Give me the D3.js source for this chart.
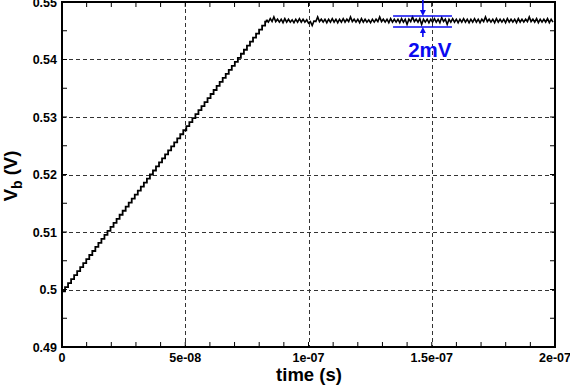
<!DOCTYPE html>
<html>
<head>
<meta charset="utf-8">
<script src="https://cdnjs.cloudflare.com/ajax/libs/d3/7.8.5/d3.min.js"></script>
<style>
body { margin: 0; background: #fff; }
text { font-family: "Liberation Sans", Arial, sans-serif; font-weight: bold; }
</style>
</head>
<body>
<div id="chart"></div>
<script>
// Width and height
var width  = 570;
var height = 386;
var plotL = 62, plotR = 555, plotT = 2, plotB = 347;

// axis ticks
var xTicks      = [0, 5e-8, 1e-7, 1.5e-7, 2e-7];
var xTickLabels = ["0", "5e-08", "1e-07", "1.5e-07", "2e-07"];
var yTicks      = [0.49, 0.5, 0.51, 0.52, 0.53, 0.54, 0.55];
var yTickLabels = ["0.49", "0.5", "0.51", "0.52", "0.53", "0.54", "0.55"];

// ramp (staircase), one level per step
var rampStep = 1.23e-9;
var rampV = [
  0.4997, 0.5004, 0.5011, 0.5018, 0.5025, 0.5032, 0.5039, 0.5046, 0.5053, 0.5060,
  0.5067, 0.5074, 0.5081, 0.5088, 0.5095, 0.5102, 0.5109, 0.5116, 0.5123, 0.5130,
  0.5137, 0.5144, 0.5151, 0.5158, 0.5165, 0.5172, 0.5179, 0.5186, 0.5193, 0.5200,
  0.5207, 0.5214, 0.5221, 0.5228, 0.5235, 0.5242, 0.5249, 0.5256, 0.5263, 0.5270,
  0.5277, 0.5284, 0.5291, 0.5298, 0.5305, 0.5312, 0.5319, 0.5326, 0.5333, 0.5340,
  0.5347, 0.5354, 0.5361, 0.5368, 0.5375, 0.5382, 0.5389, 0.5396, 0.5403, 0.5410,
  0.5417, 0.5424, 0.5431, 0.5438, 0.5445, 0.5452, 0.5459, 0.5466
];

// ripple after settling
var rippleStart = 8.3e-8;
var rippleStep  = 0.74e-9;
var rippleV = [
  0.5469, 0.5465, 0.5471, 0.5466, 0.5474, 0.5466, 0.5470, 0.5465, 0.5470, 0.5464,
  0.5471, 0.5465, 0.5470, 0.5465, 0.5469, 0.5464, 0.5470, 0.5465, 0.5471, 0.5465,
  0.5470, 0.5465, 0.5469, 0.5463, 0.5466, 0.5459, 0.5467, 0.5466, 0.5474, 0.5466,
  0.5470, 0.5465, 0.5470, 0.5464, 0.5470, 0.5465, 0.5471, 0.5465, 0.5470, 0.5464,
  0.5470, 0.5465, 0.5471, 0.5465, 0.5470, 0.5466, 0.5474, 0.5466, 0.5470, 0.5465,
  0.5470, 0.5464, 0.5471, 0.5465, 0.5470, 0.5465, 0.5469, 0.5464, 0.5470, 0.5465,
  0.5470, 0.5466, 0.5474, 0.5466, 0.5470, 0.5465, 0.5470, 0.5464, 0.5471, 0.5465,
  0.5470, 0.5465, 0.5470, 0.5464, 0.5471, 0.5465, 0.5470, 0.5461, 0.5470, 0.5466,
  0.5474, 0.5466, 0.5470, 0.5465, 0.5471, 0.5461, 0.5470, 0.5465, 0.5470, 0.5464,
  0.5470, 0.5465, 0.5471, 0.5465, 0.5470, 0.5464, 0.5473, 0.5466, 0.5470, 0.5461,
  0.5470, 0.5465, 0.5471, 0.5465, 0.5470, 0.5464, 0.5470, 0.5465, 0.5471, 0.5465,
  0.5470, 0.5464, 0.5470, 0.5465, 0.5471, 0.5465, 0.5470, 0.5464, 0.5470, 0.5466,
  0.5474, 0.5466, 0.5470, 0.5465, 0.5470, 0.5464, 0.5471, 0.5465, 0.5470, 0.5465,
  0.5470, 0.5464, 0.5471, 0.5465, 0.5470, 0.5465, 0.5470, 0.5464, 0.5471, 0.5465,
  0.5470, 0.5465, 0.5470, 0.5466, 0.5474, 0.5466, 0.5470, 0.5465, 0.5471, 0.5464,
  0.5470, 0.5465, 0.5470, 0.5465, 0.5471, 0.5464, 0.5470, 0.5465
];

// 2mV annotation (data units)
var annoTop = 0.54757, annoBot = 0.54565;
var annoT0 = 1.343e-7, annoT1 = 1.582e-7, annoArrowT = 1.464e-7;
var annoLabel = "2mV";

var x = d3.scaleLinear().domain([0, 2e-7]).range([plotL, plotR]);
var y = d3.scaleLinear().domain([0.49, 0.55]).range([plotB, plotT]);

var svg = d3.select("#chart").append("svg")
    .attr("width", width)
    .attr("height", height);

svg.append("defs").append("clipPath").attr("id", "plotclip")
    .append("rect")
    .attr("x", plotL).attr("y", plotT)
    .attr("width", plotR - plotL).attr("height", plotB - plotT);

// grid
var grid = svg.append("g")
    .attr("stroke", "#333")
    .attr("stroke-width", 1)
    .attr("stroke-dasharray", "4,3");
grid.selectAll(".gx")
    .data(xTicks.slice(1, -1))
    .enter().append("line")
    .attr("x1", function(d){ return Math.round(x(d)) + 0.5; })
    .attr("x2", function(d){ return Math.round(x(d)) + 0.5; })
    .attr("y1", plotT).attr("y2", plotB);
grid.selectAll(".gy")
    .data(yTicks.slice(1, -1))
    .enter().append("line")
    .attr("y1", function(d){ return Math.round(y(d)) + 0.5; })
    .attr("y2", function(d){ return Math.round(y(d)) + 0.5; })
    .attr("x1", plotL).attr("x2", plotR);

// data
var rampPts = rampV.map(function(v, i){ return [i * rampStep, v]; });
rampPts.push([rippleStart, rippleV[0]]);
var ripplePts = rippleV.map(function(v, i){ return [rippleStart + i * rippleStep, v]; });

var line = d3.line().x(function(d){ return x(d[0]); }).y(function(d){ return y(d[1]); });

var dataG = svg.append("g").attr("clip-path", "url(#plotclip)");
dataG.append("path")
    .attr("d", line.curve(d3.curveStepAfter)(rampPts))
    .attr("fill", "none")
    .attr("stroke", "#000")
    .attr("stroke-width", 1.8);
dataG.append("path")
    .attr("d", line.curve(d3.curveLinear)(ripplePts))
    .attr("fill", "none")
    .attr("stroke", "#000")
    .attr("stroke-width", 1.6);

// frame
svg.append("rect")
    .attr("x", plotL).attr("y", plotT)
    .attr("width", plotR - plotL).attr("height", plotB - plotT)
    .attr("fill", "none")
    .attr("stroke", "#000")
    .attr("stroke-width", 2);

// minor ticks, inside
var tickG = svg.append("g").attr("stroke", "#000").attr("stroke-width", 1);
var xMinor = d3.range(0, 21).map(function(i){ return i * 1e-8; });
var yMinor = d3.range(0, 13).map(function(i){ return 0.49 + i * 0.005; });
tickG.selectAll(".xb").data(xMinor).enter().append("line")
    .attr("x1", function(d){ return x(d); }).attr("x2", function(d){ return x(d); })
    .attr("y1", plotB).attr("y2", plotB - 5);
tickG.selectAll(".xt").data(xMinor).enter().append("line")
    .attr("x1", function(d){ return x(d); }).attr("x2", function(d){ return x(d); })
    .attr("y1", plotT).attr("y2", plotT + 5);
tickG.selectAll(".yl").data(yMinor).enter().append("line")
    .attr("y1", function(d){ return y(d); }).attr("y2", function(d){ return y(d); })
    .attr("x1", plotL).attr("x2", plotL + 5);
tickG.selectAll(".yr").data(yMinor).enter().append("line")
    .attr("y1", function(d){ return y(d); }).attr("y2", function(d){ return y(d); })
    .attr("x1", plotR).attr("x2", plotR - 5);

// tick labels
svg.selectAll(".xlab").data(xTicks).enter().append("text")
    .attr("x", function(d){ return x(d); })
    .attr("y", 362)
    .attr("text-anchor", "middle")
    .attr("font-size", 12.5)
    .text(function(d, i){ return xTickLabels[i]; });
svg.selectAll(".ylab").data(yTicks).enter().append("text")
    .attr("x", 57)
    .attr("y", function(d){ return y(d) + 4.5; })
    .attr("text-anchor", "end")
    .attr("font-size", 12.5)
    .text(function(d, i){ return yTickLabels[i]; });

// axis titles
svg.append("text")
    .attr("x", 309).attr("y", 381)
    .attr("text-anchor", "middle")
    .attr("font-size", 18.5)
    .text("time (s)");
var yt = svg.append("text")
    .attr("transform", "translate(17,176) rotate(-90)")
    .attr("text-anchor", "middle")
    .attr("font-size", 18.5);
yt.append("tspan").text("V");
yt.append("tspan").attr("dy", 5).attr("font-size", 14).text("b");
yt.append("tspan").attr("dy", -5).text(" (V)");

// 2mV annotation
var blue = "#0a0af0";
var ann = svg.append("g").attr("stroke", blue).attr("stroke-width", 1.6);
[annoTop, annoBot].forEach(function(v){
    ann.append("line")
        .attr("x1", x(annoT0)).attr("x2", x(annoT1))
        .attr("y1", y(v)).attr("y2", y(v));
});
var ax = x(annoArrowT);
ann.append("line").attr("x1", ax).attr("x2", ax).attr("y1", 0).attr("y2", y(annoTop) - 4);
ann.append("line").attr("x1", ax).attr("x2", ax).attr("y1", y(annoBot) + 10).attr("y2", y(annoBot) + 4);
svg.append("path")
    .attr("d", "M" + (ax - 3) + "," + (y(annoTop) - 6) + "L" + (ax + 3) + "," + (y(annoTop) - 6) + "L" + ax + "," + y(annoTop) + "Z")
    .attr("fill", blue);
svg.append("path")
    .attr("d", "M" + (ax - 3) + "," + (y(annoBot) + 6) + "L" + (ax + 3) + "," + (y(annoBot) + 6) + "L" + ax + "," + y(annoBot) + "Z")
    .attr("fill", blue);
svg.append("text")
    .attr("x", ax + 7).attr("y", 57)
    .attr("text-anchor", "middle")
    .attr("font-size", 20.5)
    .attr("fill", blue)
    .text(annoLabel);
</script>
</body>
</html>
